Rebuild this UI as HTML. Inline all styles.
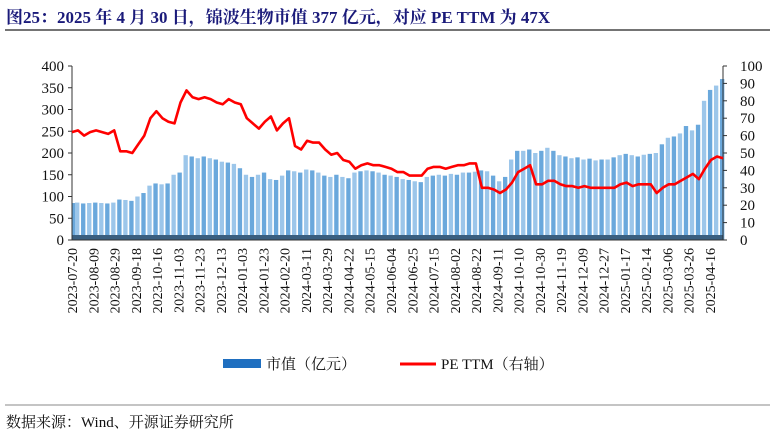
<!DOCTYPE html>
<html><head><meta charset="utf-8"><style>
body{margin:0;background:#fff;width:774px;height:435px;overflow:hidden}
svg{display:block;font-family:"Liberation Serif","Noto Serif CJK SC",serif}
</style></head><body>
<svg id="c" width="774" height="435">
<text x="6" y="23" font-size="17" font-weight="bold" fill="#1a1a7a">图25：2025 年 4 月 30 日，锦波生物市值 377 亿元，对应 PE TTM 为 47X</text>
<line x1="5" y1="30" x2="770" y2="30" stroke="#222" stroke-width="1.3"/>
<g id="bars"></g>
<g id="axes"></g>
<path id="pe" fill="none" stroke="#f00" stroke-width="2.6" stroke-linejoin="round"/>
<g id="xl"></g>
<rect x="223" y="359" width="38" height="9" fill="#1f6fc0"/>
<text x="266" y="369" font-size="15" fill="#111">市值（亿元）</text>
<line x1="400" y1="364" x2="436" y2="364" stroke="#f00" stroke-width="3"/>
<text x="441" y="369" font-size="15" fill="#111">PE TTM（右轴）</text>
<line x1="5" y1="405" x2="770" y2="405" stroke="#888" stroke-width="1"/>
<text x="6" y="427" font-size="15" fill="#111">数据来源：Wind、开源证券研究所</text>
</svg>
<script>
const capValues=[85,86,84,85,86,85,84,86,93,92,90,100,108,125,130,128,130,150,155,195,192,188,192,188,185,180,178,175,165,150,145,150,155,140,138,148,160,158,155,162,160,155,148,145,150,145,142,155,158,160,158,155,150,148,145,140,138,135,133,145,148,150,148,152,150,155,155,157,160,158,148,135,145,185,205,205,208,200,205,212,205,195,192,188,190,185,187,183,185,185,190,195,198,195,192,196,198,200,220,235,238,245,262,252,265,320,345,355,370];
const peValues=[62,63,60,62,63,62,61,63,51,51,50,55,60,70,74,70,68,67,79,86,82,81,82,81,79,78,81,79,78,70,67,64,68,71,63,67,70,54,52,57,56,56,52,49,50,46,45,41,43,44,43,43,42,41,39,39,37,37,37,41,42,42,41,42,43,43,44,44,30,30,29,27,29,33,39,41,43,32,32,34,34,32,31,31,30,31,30,30,30,30,30,32,33,31,32,32,32,27,30,32,32,34,36,38,35,41,46,48,47];
const dateLabels=["2023-07-20","2023-08-09","2023-08-29","2023-09-18","2023-10-16","2023-11-03","2023-11-23","2023-12-13","2024-01-03","2024-01-23","2024-02-20","2024-03-11","2024-03-29","2024-04-22","2024-05-15","2024-06-04","2024-06-25","2024-07-15","2024-08-02","2024-08-22","2024-09-11","2024-10-10","2024-10-30","2024-11-19","2024-12-09","2024-12-27","2025-01-17","2025-02-14","2025-03-06","2025-03-26","2025-04-16"];
const leftTicks=[0,50,100,150,200,250,300,350,400];
const rightTicks=[0,10,20,30,40,50,60,70,80,90,100];
const NS="http://www.w3.org/2000/svg";
const X0=72,X1=723,Y0=240,Y1=66;
const n=capValues.length;
const xs=i=>X0+(X1-X0)*i/(n-1);
const yL=v=>Y0-(Y0-Y1)*v/400;
const yR=v=>Y0-(Y0-Y1)*v/100;
function mk(t,p){const e=document.createElementNS(NS,t);for(const k in p)e.setAttribute(k,p[k]);return e;}
const bars=document.getElementById('bars');
const bw=(X1-X0)/(n-1);
capValues.forEach((v,i)=>{
  const x=xs(i)-bw/2;
  const r=mk('rect',{x:Math.max(X0,x),y:yL(v),width:bw*0.72,height:Y0-yL(v),fill:i%2?'#9cc6ea':'#6aa8dc'});
  
  
  bars.appendChild(r);
});
const ax=document.getElementById('axes');
const band=mk('rect',{x:X0,y:Y0-5,width:X1-X0,height:5,fill:'#3a5f80'});


ax.appendChild(band);
ax.appendChild(mk('line',{x1:X0,y1:Y1,x2:X0,y2:Y0,stroke:'#333'}));
ax.appendChild(mk('line',{x1:X1,y1:Y1,x2:X1,y2:Y0,stroke:'#333'}));
ax.appendChild(mk('line',{x1:X0,y1:Y0,x2:X1,y2:Y0,stroke:'#333'}));
leftTicks.forEach(v=>{
  const t=mk('text',{x:X0-8,y:yL(v)+5,'text-anchor':'end','font-size':15,fill:'#111'});
  t.textContent=v;
  
  
  ax.appendChild(t);
  ax.appendChild(mk('line',{x1:X0-4,y1:yL(v),x2:X0,y2:yL(v),stroke:'#333'}));
});
rightTicks.forEach(v=>{
  const t=mk('text',{x:X1+17,y:yR(v)+5,'font-size':15,fill:'#111'});
  t.textContent=v;
  
  
  ax.appendChild(t);
  ax.appendChild(mk('line',{x1:X1,y1:yR(v),x2:X1+4,y2:yR(v),stroke:'#333'}));
});
document.getElementById('pe').setAttribute('d',peValues.map((v,i)=>(i?'L':'M')+xs(i).toFixed(1)+','+yR(v).toFixed(1)).join(''));
const xl=document.getElementById('xl');
const step=(710-X0)/(dateLabels.length-1);
dateLabels.forEach((d,i)=>{
  const x=X0+step*i+5;
  const t=mk('text',{x:0,y:0,'text-anchor':'end','font-size':14,fill:'#111',transform:`translate(${x.toFixed(1)},248) rotate(-90)`});
  t.textContent=d;
  
  
  xl.appendChild(t);
});
</script>
</body></html>
